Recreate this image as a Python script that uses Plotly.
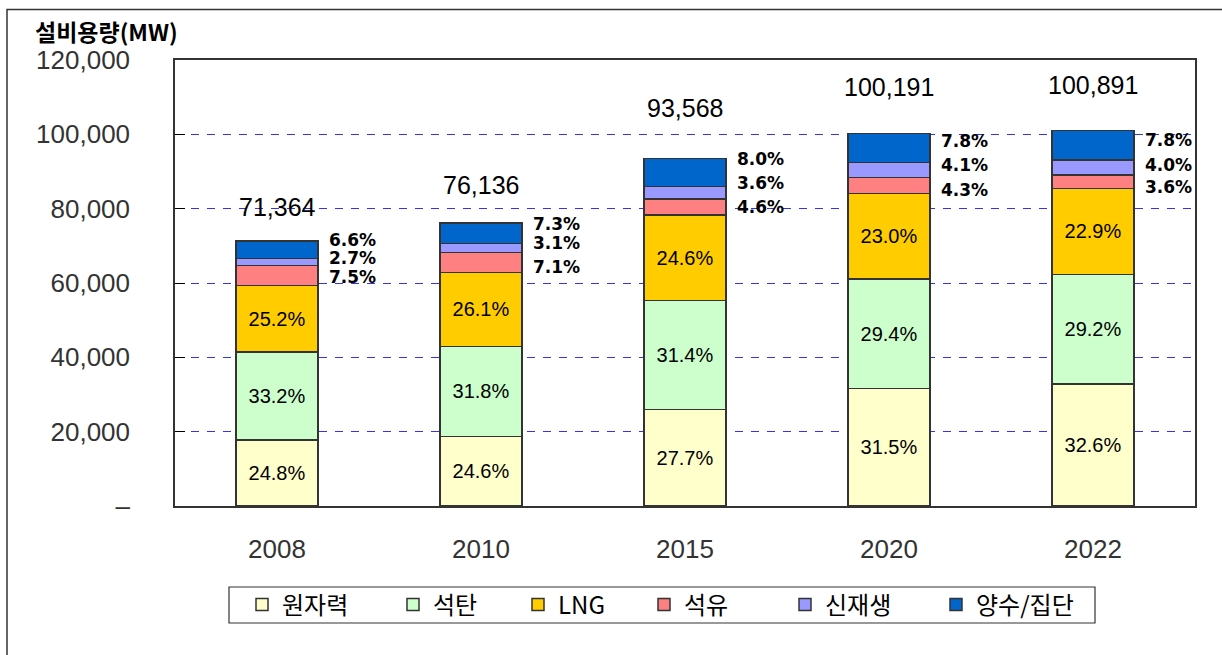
import plotly.graph_objects as go

# ---------------- data ----------------
years = ["2008", "2010", "2015", "2020", "2022"]
totals = [71364, 76136, 93568, 100191, 100891]
total_labels = ["71,364", "76,136", "93,568", "100,191", "100,891"]

series_names = ["원자력", "석탄", "LNG", "석유", "신재생", "양수/집단"]
nuclear = [17698, 18729, 25918, 31560, 32890]
coal = [23693, 24211, 29380, 29456, 29460]
lng = [17984, 19871, 23018, 23044, 23104]
oil = [5352, 5406, 4304, 4308, 3632]
renew = [1927, 2360, 3368, 4108, 4036]
pump = [4710, 5558, 7485, 7815, 7869]

nuclear_pct = ["24.8%", "24.6%", "27.7%", "31.5%", "32.6%"]
coal_pct = ["33.2%", "31.8%", "31.4%", "29.4%", "29.2%"]
lng_pct = ["25.2%", "26.1%", "24.6%", "23.0%", "22.9%"]
oil_pct = ["7.5%", "7.1%", "4.6%", "4.3%", "3.6%"]
renew_pct = ["2.7%", "3.1%", "3.6%", "4.1%", "4.0%"]
pump_pct = ["6.6%", "7.3%", "8.0%", "7.8%", "7.8%"]

y_tickvals = [0, 20000, 40000, 60000, 80000, 100000, 120000]
y_ticktext = ["–", "20,000", "40,000", "60,000", "80,000", "100,000", "120,000"]

# ---------------- styles ----------------
colors = ["#FFFFCC", "#CCFFCC", "#FFCC00", "#FF8080", "#9999FF", "#0066CC"]
legend_widths = [106, 80, 81, 96, 106, 100]
pump_shift = [9.5, 9.4, 13.5, 6.7, 5.2]
renew_shift = [4, 5, 9.6, 5, 2.4]
oil_shift = [-1.6, -4.5, 0, -4.5, -5.4]
total_shift = [34, 38, 50, 46.5, 46]

SANS = "Liberation Sans, Arial, sans-serif"
KR = "Noto Sans CJK KR, sans-serif"
PCT = "DejaVu Sans, sans-serif"

values = [nuclear, coal, lng, oil, renew, pump]
inside_text = [nuclear_pct, coal_pct, lng_pct, None, None, None]

fig = go.Figure()
for i, (name, vals) in enumerate(zip(series_names, values)):
    if inside_text[i] is not None:
        kw = dict(text=inside_text[i], textposition="inside",
                  insidetextanchor="middle", textangle=0,
                  constraintext="none",
                  textfont=dict(family=SANS, size=20, color="black"))
    else:
        kw = dict(textposition="none")
    fig.add_trace(go.Bar(
        x=years, y=vals, name=name,
        marker=dict(color=colors[i], line=dict(color="#333333", width=1.5)),
        legendwidth=legend_widths[i],
        hoverinfo="skip",
        **kw,
    ))


def seg_centers(idx):
    out = []
    for j in range(len(years)):
        base = sum(values[k][j] for k in range(idx))
        out.append(base + values[idx][j] / 2)
    return out


annotations = []
# side percentage labels (category index positions)
for idx, pct, shifts in [(3, oil_pct, oil_shift), (4, renew_pct, renew_shift), (5, pump_pct, pump_shift)]:
    centers = seg_centers(idx)
    for j in range(len(years)):
        annotations.append(dict(
            x=j, y=centers[j], xref="x", yref="y", text=pct[j],
            showarrow=False, xanchor="left", yanchor="middle",
            xshift=50, yshift=shifts[j],
            font=dict(family=PCT, size=17, color="black", weight="bold"),
        ))

# total labels
for j in range(len(years)):
    annotations.append(dict(
        x=j, y=totals[j], xref="x", yref="y", text=total_labels[j],
        showarrow=False, xanchor="center", yanchor="middle",
        yshift=total_shift[j],
        font=dict(family=SANS, size=25, color="black"),
    ))

# axis title
annotations.append(dict(
    x=(33 - 175) / 1020, y=(506 - 31) / 446, xref="paper", yref="paper",
    text="설비용량(MW)", showarrow=False, xanchor="left", yanchor="middle",
    font=dict(family=KR, size=23, color="black", weight="bold"),
))

shapes = [
    # outer frame
    dict(type="rect", xref="paper", yref="paper",
         x0=(7 - 175) / 1020, x1=(1240 - 175) / 1020,
         y0=(506 - 680) / 446, y1=(506 - 9.5) / 446,
         line=dict(color="#333333", width=1.5), layer="below"),
    # legend box
    dict(type="rect", xref="paper", yref="paper",
         x0=(229 - 175) / 1020, x1=(1095 - 175) / 1020,
         y0=(506 - 623) / 446, y1=(506 - 587) / 446,
         line=dict(color="#333333", width=1.2), layer="below"),
]

fig.update_layout(
    width=1222, height=655,
    margin=dict(l=175, r=27, t=60, b=149),
    paper_bgcolor="white", plot_bgcolor="white",
    barmode="stack", bargap=0.6,
    showlegend=True,
    legend=dict(orientation="h", x=(242 - 175) / 1020, xanchor="left",
                y=(506 - 605) / 446, yanchor="middle",
                font=dict(family=KR, size=24, color="black"),
                bgcolor="rgba(0,0,0,0)", borderwidth=0,
                traceorder="normal"),
    annotations=annotations,
    shapes=shapes,
    xaxis=dict(type="category", range=[-0.5, 4.5], autorange=False,
               showline=True, mirror=True,
               linecolor="#333333", linewidth=1.5, ticks="",
               showgrid=False,
               tickfont=dict(family=SANS, size=26, color="#333333"),
               ticklabelstandoff=19),
    yaxis=dict(range=[0, 120000], autorange=False,
               tickvals=y_tickvals, ticktext=y_ticktext,
               showline=True, mirror=True, linecolor="#333333", linewidth=1.5,
               ticks="inside", ticklen=10, tickcolor="black", tickwidth=1,
               showgrid=True, gridcolor="#3333EE", gridwidth=1,
               griddash="8px,8px", zeroline=False,
               tickfont=dict(family=SANS, size=26, color="#333333"),
               ticklabelstandoff=38),
)

fig.write_html("out.html")
